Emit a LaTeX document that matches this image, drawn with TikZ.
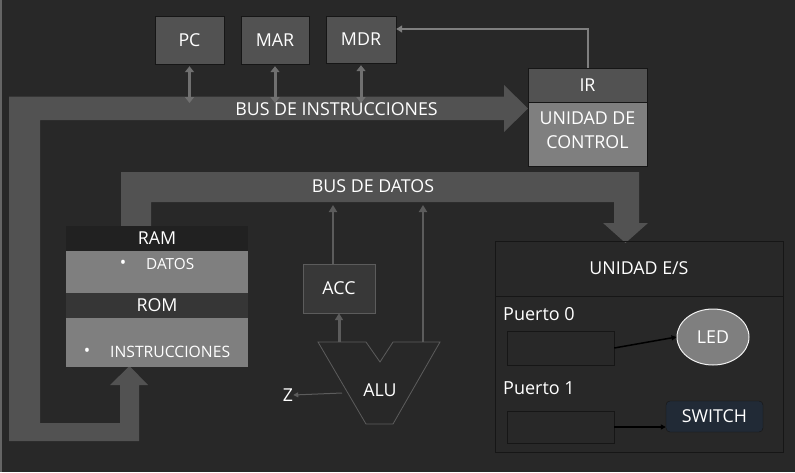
\documentclass[tikz,border=0pt]{standalone}
\usepackage{fontspec}
\setmainfont{Open Sans}
\usetikzlibrary{arrows.meta,shapes.geometric}

\definecolor{fondo}{RGB}{40,40,40}
\definecolor{bus}{RGB}{82,82,82}
\definecolor{claro}{RGB}{127,127,127}
\definecolor{borde}{RGB}{22,22,22}
\definecolor{flechagris}{RGB}{112,112,112}
\definecolor{lineagris}{RGB}{92,92,92}
\definecolor{ramtit}{RGB}{33,33,33}
\definecolor{romtit}{RGB}{54,54,54}
\definecolor{accfill}{RGB}{56,56,56}
\definecolor{swfill}{RGB}{33,42,54}

\begin{document}
\begin{tikzpicture}[x=1pt, y=-1pt, text=white,
    font=\fontsize{17.8}{24}\selectfont,
    reg/.style={draw=borde, fill=bus, minimum width=69pt, minimum height=48pt,
                inner sep=0pt},
    capa/.style={minimum width=182pt, inner sep=0pt},
    txt/.style={inner sep=0pt},
    doble/.style={flechagris, line width=3pt,
                  {Triangle[length=6pt,width=9pt]}-{Triangle[length=6pt,width=9pt]}},
    subida/.style={lineagris, line width=2.5pt, -{Triangle[length=7pt,width=8pt]}},
    retorno/.style={claro, line width=2pt, -{Triangle[length=6pt,width=7pt]}},
    negra/.style={black, line width=1.5pt, -{Triangle[length=5pt,width=5pt]}},
    puerto/.style={draw=borde, minimum width=107pt, inner sep=0pt}]
\fill[fondo] (0,0) rectangle (795,472);
\useasboundingbox (0,0) rectangle (795,472);
\draw[claro!70!fondo, line width=1.5pt] (0.75,0) -- (0.75,472);

% buses
\fill[bus] (9,441) -- (9,96.5) -- (504,96.5) -- (504,85) -- (528,108.5)
  -- (504,132) -- (504,120) -- (40,120) -- (40,423) -- (120,423) -- (120,385)
  -- (110,385) -- (129.5,366) -- (148,385) -- (139,385) -- (139,441) -- cycle;
\fill[bus] (121,226) -- (121,172) -- (639,172) -- (639,223) -- (648,223)
  -- (625.5,243) -- (603,223) -- (614,223) -- (614,202) -- (151,202)
  -- (151,226) -- cycle;
\node[txt] (businst) at (336.5,109) {BUS DE INSTRUCCIONES};
\node[txt] (busdat) at (373,186) {BUS DE DATOS};

% registros
\node[reg] (pc) at (189.5,40) {PC};
\node[reg, minimum width=68pt] (mar) at (275,40) {MAR};
\node[reg, minimum width=70pt, minimum height=47pt] (mdr) at (361,39.5) {MDR};
\coordinate (bi) at (0,103);
\foreach \r in {pc,mar,mdr}
  \draw[doble, shorten <=2pt] (\r.south) -- (\r.south |- bi);

% unidad de control
\node[draw=borde, fill=bus, minimum width=119pt, minimum height=34pt,
      inner sep=0pt] (ir) at (587.5,85) {IR};
\node[draw=borde, fill=claro, minimum width=119pt, minimum height=64pt,
      inner sep=0pt] (uc) at (587.5,134) {};
\node[txt, align=center] (uctxt) at (587.5,130) {UNIDAD DE\\CONTROL};
\coordinate (codo) at (587.5,29);
\draw[retorno] (ir.north) -- (codo) -- (codo -| mdr.east);

% memoria
\node[capa, fill=ramtit, minimum height=25pt] (ram) at (157,238.5) {RAM};
\node[capa, fill=claro, minimum height=42pt] (datos) at (157,272) {};
\node[capa, fill=romtit, minimum height=25pt] (rom) at (157,305.5) {ROM};
\node[capa, fill=claro, minimum height=49pt] (instr) at (157,342.5) {};
\node[txt, font=\fontsize{17}{18}\selectfont] (bul1) at (123,264) {\textbullet};
\node[txt, anchor=west, font=\fontsize{15.3}{18}\selectfont] (datostxt) at (146,264) {DATOS};
\node[txt, font=\fontsize{17}{18}\selectfont] (bul2) at (87,352) {\textbullet};
\node[txt, anchor=west, font=\fontsize{15.7}{18}\selectfont] (instrtxt) at (110,352) {INSTRUCCIONES};

% ALU y ACC
\node[draw=lineagris, fill=accfill, minimum width=72pt, minimum height=49pt,
      inner sep=0pt] (acc) at (339,288.5) {ACC};
\draw[lineagris, line width=0.8pt] (318,342) -- (366,342) -- (380,362)
  -- (393,342) -- (440,342) -- (393,424) -- (366,424) -- cycle;
\node[txt] (alu) at (380,390) {ALU};
\node[txt] (z) at (288,395) {Z};
\coordinate (alusal) at (339,342);
\coordinate (aluder) at (423,342);
\coordinate (aluz) at (342,393);
\coordinate (bd1) at (333,205);
\coordinate (bd2) at (423,205);
\draw[subida, line width=3pt] (alusal) -- (acc.south);
\draw[subida] (acc.north -| bd1) -- (bd1);
\draw[subida] (aluder) -- (bd2);
\draw[lineagris, line width=1pt, -{Triangle[length=5pt,width=5pt]}] (aluz) -- (z.east);

% unidad E/S
\node[draw=borde, minimum width=288pt, minimum height=55pt,
      inner sep=0pt] (estit) at (639,268.5) {UNIDAD E/S};
\node[draw=borde, minimum width=288pt, minimum height=156pt,
      inner sep=0pt] (es) at (639,374) {};
\node[txt, anchor=west, font=\fontsize{18}{20}\selectfont] (p0lab) at (503,314) {Puerto 0};
\node[txt, anchor=west, font=\fontsize{18}{20}\selectfont] (p1lab) at (503,388) {Puerto 1};
\node[puerto, minimum height=34pt] (p0) at (560.5,348) {};
\node[puerto, minimum height=32pt] (p1) at (560.5,427) {};
\node[ellipse, draw=white!90!gray, line width=1pt, fill=claro, minimum width=72pt,
      minimum height=56pt, inner sep=0pt] (led) at (713,337) {LED};
\node[draw=borde, fill=swfill, rounded corners=4pt, minimum width=97pt,
      minimum height=31pt, inner sep=0pt] (sw) at (714.5,416.5) {SWITCH};
\draw[negra] (p0.east) -- (led.west);
\draw[negra] (p1.east) -- (p1.east -| sw.west);
\end{tikzpicture}
\end{document}
